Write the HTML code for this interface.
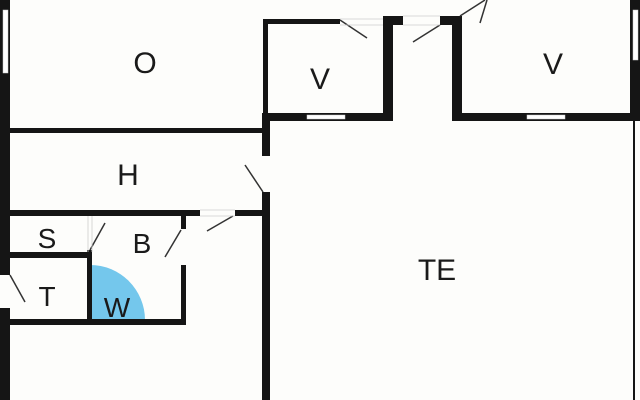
<!DOCTYPE html>
<html><head><style>body{margin:0;background:#fdfdfb}svg{display:block}</style></head><body>
<svg width="640" height="400" viewBox="0 0 640 400" xmlns="http://www.w3.org/2000/svg">
<rect width="640" height="400" fill="#fdfdfb"/>
<path d="M90,320 L90,265 A55,55 0 0 1 145,320 Z" fill="#74c7ec"/>
<g fill="#151515">
<!-- left outer wall -->
<rect x="0" y="0" width="10" height="275"/>
<rect x="0" y="308" width="10" height="92"/>
<!-- O/H wall -->
<rect x="10" y="128" width="255" height="5"/>
<!-- wall between H and TE -->
<rect x="262" y="113" width="8" height="43"/>
<rect x="262" y="192" width="8" height="208"/>
<!-- small V room -->
<rect x="263" y="19" width="5" height="100"/>
<rect x="263" y="19" width="77" height="5"/>
<rect x="263" y="113" width="130" height="8"/>
<rect x="383" y="16" width="10" height="105"/>
<rect x="383" y="16" width="20" height="9"/>
<rect x="440" y="16" width="22" height="9"/>
<!-- right V room -->
<rect x="452" y="16" width="10" height="105"/>
<rect x="452" y="113" width="188" height="8"/>
<rect x="630" y="0" width="10" height="121"/>
<rect x="633" y="121" width="2" height="279"/>
<!-- H/S wall -->
<rect x="10" y="210" width="190" height="6"/>
<rect x="235" y="210" width="30" height="6"/>
<!-- B right wall -->
<rect x="181" y="213" width="5" height="16"/>
<rect x="181" y="265" width="5" height="60"/>
<!-- S/T wall -->
<rect x="10" y="252" width="82" height="6"/>
<rect x="87" y="250" width="5" height="75"/>
<rect x="10" y="319" width="176" height="6"/>
</g>
<g fill="#fff" stroke="#ccc" stroke-width="0.5">
<rect x="3" y="10" width="5" height="63"/>
<rect x="307" y="115" width="38" height="4"/>
<rect x="527" y="115" width="38" height="4"/>
<rect x="633" y="10" width="5" height="50"/>
</g>
<g stroke="#333" stroke-width="1.5" fill="none">
<line x1="340" y1="20" x2="367" y2="38"/>
<line x1="440" y1="25" x2="413" y2="42"/>
<line x1="460" y1="16" x2="485" y2="0"/>
<line x1="480" y1="23" x2="487" y2="0"/>
<line x1="245" y1="165" x2="263" y2="192"/>
<line x1="233" y1="216" x2="207" y2="231"/>
<line x1="181" y1="230" x2="165" y2="257"/>
<line x1="105" y1="223" x2="90" y2="250"/>
<line x1="10" y1="275" x2="25" y2="302"/>
</g>
<g stroke="#ccc" stroke-width="0.8">
<line x1="340" y1="19" x2="383" y2="19"/><line x1="340" y1="25" x2="383" y2="25"/>
<line x1="403" y1="16" x2="440" y2="16"/><line x1="403" y1="25" x2="440" y2="25"/>
<line x1="200" y1="210" x2="235" y2="210"/><line x1="200" y1="216" x2="235" y2="216"/>
<line x1="88" y1="216" x2="88" y2="252"/><line x1="92" y1="216" x2="92" y2="252"/>
</g>
<g font-family="Liberation Sans, sans-serif" font-size="30" fill="#1a1a1a" text-anchor="middle">
<text x="145" y="73">O</text>
<text x="320" y="89">V</text>
<text x="553" y="74">V</text>
<text x="128" y="185">H</text>
<text x="437" y="280">TE</text>
<text x="47" y="248" font-size="28">S</text>
<text x="142" y="253" font-size="28">B</text>
<text x="47" y="306" font-size="28">T</text>
<text x="117" y="317" font-size="28">W</text>
</g>
</svg>
</body></html>
